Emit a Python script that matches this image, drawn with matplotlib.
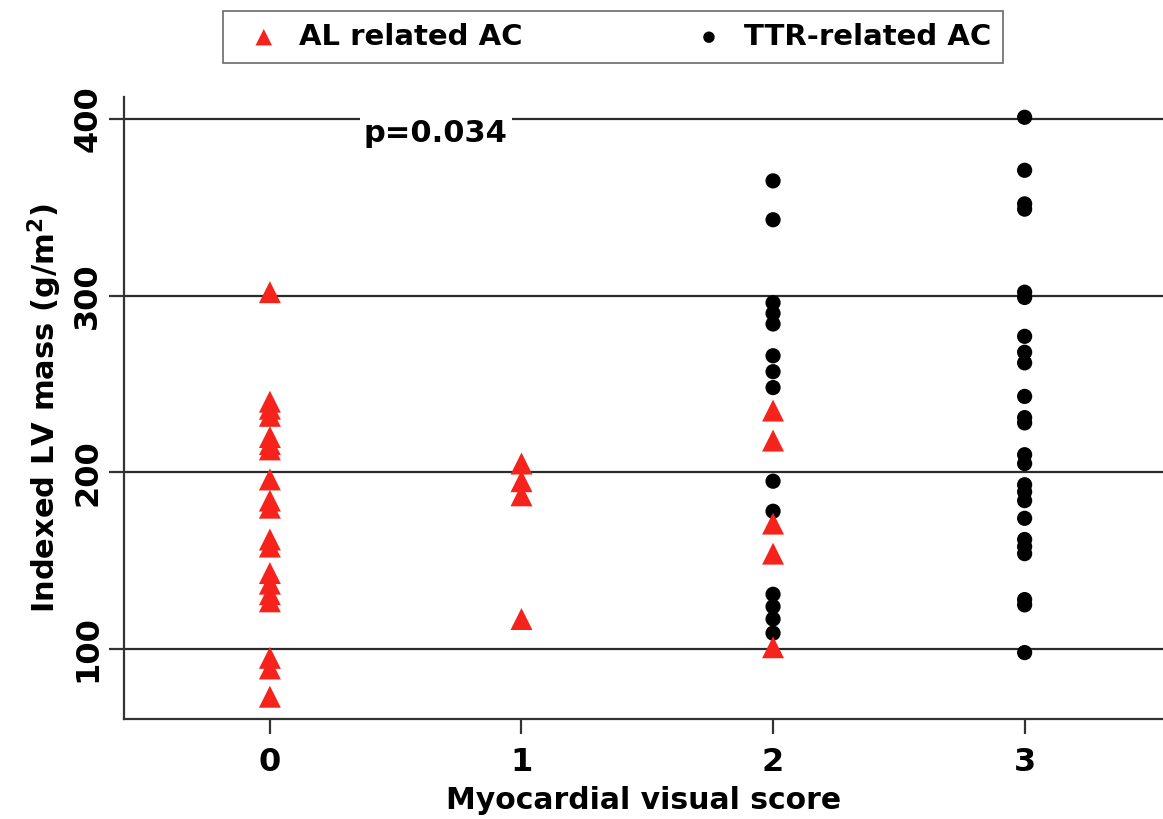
import matplotlib.pyplot as plt

# Indexed LV mass (g/m^2) by myocardial visual score
al_score = [0] * 19 + [1] * 4 + [2] * 5
al_mass = [302, 240, 236, 232, 220, 216, 213, 196, 184, 180, 162, 158, 143, 137, 131, 127, 95, 89, 73,
           205, 195, 187, 117,
           235, 218, 171, 154, 101]

ttr_score = [2] * 14 + [3] * 24
ttr_mass = [365, 343, 296, 290, 284, 266, 257, 248, 195, 178, 131, 124, 117, 109,
            401, 371, 352, 349, 302, 299, 277, 268, 262, 243, 231, 228, 210, 205,
            193, 189, 184, 174, 162, 158, 154, 128, 125, 98]

x_ticks = [0, 1, 2, 3]
y_ticks = [100, 200, 300, 400]
p_text = "p=0.034"

red = '#f5231b'

fig = plt.figure(figsize=(11.63, 8.19), dpi=100)
ax = fig.add_axes([0.1066, 0.1221, 0.8934, 0.7595])

# gridlines at the y ticks
for yv in y_ticks:
    ax.axhline(yv, color='#2b2b2b', lw=1.6, zorder=1)

dots = ax.scatter(ttr_score, ttr_mass, s=120, color='black', marker='o', edgecolors='none', zorder=3)
tris = ax.scatter(al_score, al_mass, s=250, color=red, marker='^', edgecolors='none', zorder=4)

ax.set_xlim(-0.58, 3.55)
ax.set_ylim(60.4, 412.5)
ax.set_xticks(x_ticks)
ax.set_yticks(y_ticks)
ax.tick_params(axis='both', direction='out', length=11, width=1.6, color='#333333', labelsize=23)
ax.tick_params(axis='x', pad=9)
ax.tick_params(axis='y', pad=4)
for lab in ax.get_xticklabels() + ax.get_yticklabels():
    lab.set_fontweight('bold')
for lab in ax.get_yticklabels():
    lab.set_rotation(90)
    lab.set_va('center')

for side in ['top', 'right']:
    ax.spines[side].set_visible(False)
for side in ['left', 'bottom']:
    ax.spines[side].set_color('#333333')
    ax.spines[side].set_linewidth(1.6)

ax.set_xlabel("Myocardial visual score", fontsize=21.5, fontweight='bold', labelpad=6)
ax.set_ylabel("Indexed LV mass (g/m$\\mathbf{^2}$)", fontsize=22, fontweight='bold', labelpad=6)

ax.text(0.66, 392, p_text, fontsize=22, fontweight='bold', ha='center', va='center',
        bbox=dict(facecolor='white', edgecolor='none', pad=3), zorder=5)

leg = fig.legend([tris, dots], ["AL related AC", "TTR-related AC"], ncol=2,
                 loc='center', bbox_to_anchor=(0.527, 0.955),
                 prop={'weight': 'bold', 'size': 21}, frameon=True, fancybox=False,
                 edgecolor='#444444', handletextpad=0.2, columnspacing=5.4,
                 borderpad=0.4, markerscale=0.75)
leg.get_frame().set_linewidth(1.2)

fig.savefig("out.png", dpi=100)
